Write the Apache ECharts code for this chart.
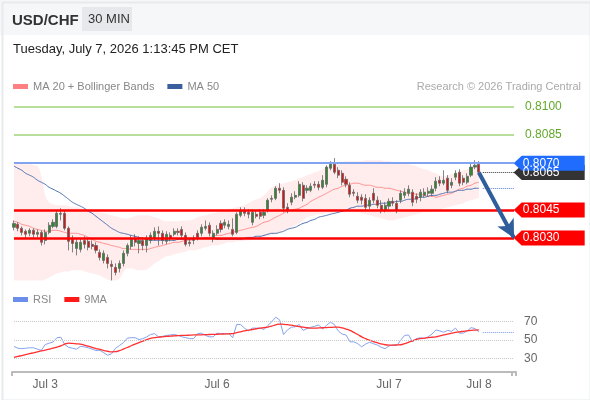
<!DOCTYPE html>
<html lang="en">
<head>
    <meta charset="UTF-8">
    <title>USD/CHF 30 MIN</title>
    <script src="https://cdn.jsdelivr.net/npm/echarts@6/dist/echarts.min.js"></script>
    <style>
        html, body { margin: 0; padding: 0; background: #fff; }
    </style>
</head>
<body>
<div id="main" style="width: 590px;height:400px;"></div>
<script>

    // candles: [open, close, low, high]
    var candles = [
        [0.80357,0.80378,0.80341,0.80394],[0.80373,0.80352,0.80336,0.80384],[0.80352,0.80330,0.80314,0.80362],[0.80336,0.80320,0.80298,0.80346],
        [0.80325,0.80341,0.80309,0.80352],[0.80341,0.80320,0.80303,0.80352],[0.80320,0.80330,0.80303,0.80346],[0.80330,0.80277,0.80260,0.80341],
        [0.80287,0.80330,0.80266,0.80346],[0.80330,0.80368,0.80320,0.80384],[0.80362,0.80384,0.80352,0.80400],[0.80362,0.80432,0.80352,0.80448],
        [0.80427,0.80432,0.80394,0.80459],[0.80432,0.80352,0.80341,0.80448],[0.80352,0.80282,0.80234,0.80362],[0.80298,0.80271,0.80223,0.80314],
        [0.80244,0.80277,0.80207,0.80298],[0.80239,0.80277,0.80223,0.80298],[0.80287,0.80266,0.80244,0.80309],[0.80282,0.80250,0.80234,0.80298],
        [0.80266,0.80255,0.80239,0.80287],[0.80260,0.80234,0.80218,0.80277],[0.80223,0.80196,0.80180,0.80239],[0.80180,0.80218,0.80164,0.80234],
        [0.80196,0.80164,0.80137,0.80212],[0.80159,0.80148,0.80073,0.80180],[0.80143,0.80116,0.80100,0.80164],[0.80137,0.80164,0.80116,0.80180],
        [0.80164,0.80218,0.80148,0.80234],[0.80218,0.80260,0.80202,0.80271],[0.80255,0.80298,0.80239,0.80314],[0.80298,0.80277,0.80255,0.80320],
        [0.80271,0.80287,0.80218,0.80309],[0.80287,0.80260,0.80234,0.80303],[0.80260,0.80298,0.80223,0.80314],[0.80287,0.80314,0.80271,0.80330],
        [0.80298,0.80336,0.80287,0.80357],[0.80336,0.80325,0.80260,0.80362],[0.80325,0.80287,0.80266,0.80341],[0.80282,0.80320,0.80266,0.80336],
        [0.80314,0.80298,0.80282,0.80330],[0.80320,0.80336,0.80309,0.80352],[0.80336,0.80330,0.80314,0.80352],[0.80346,0.80314,0.80298,0.80362],
        [0.80314,0.80266,0.80255,0.80330],[0.80277,0.80271,0.80255,0.80298],[0.80287,0.80298,0.80266,0.80314],[0.80325,0.80303,0.80287,0.80341],
        [0.80325,0.80357,0.80309,0.80373],[0.80352,0.80362,0.80341,0.80394],[0.80368,0.80325,0.80309,0.80384],[0.80298,0.80325,0.80277,0.80341],
        [0.80325,0.80346,0.80314,0.80368],[0.80378,0.80346,0.80330,0.80394],[0.80368,0.80384,0.80352,0.80400],[0.80362,0.80373,0.80346,0.80394],
        [0.80346,0.80320,0.80309,0.80405],[0.80330,0.80427,0.80320,0.80437],[0.80421,0.80448,0.80411,0.80464],[0.80448,0.80432,0.80416,0.80464],
        [0.80437,0.80427,0.80405,0.80454],[0.80384,0.80437,0.80368,0.80454],[0.80427,0.80416,0.80405,0.80448],[0.80437,0.80416,0.80400,0.80454],
        [0.80421,0.80437,0.80405,0.80454],[0.80448,0.80502,0.80437,0.80512],[0.80507,0.80512,0.80491,0.80528],[0.80512,0.80566,0.80502,0.80577],
        [0.80566,0.80555,0.80539,0.80593],[0.80555,0.80459,0.80437,0.80571],[0.80464,0.80448,0.80432,0.80486],[0.80491,0.80518,0.80475,0.80539],
        [0.80518,0.80528,0.80507,0.80550],[0.80528,0.80587,0.80518,0.80604],[0.80582,0.80512,0.80496,0.80598],[0.80555,0.80566,0.80539,0.80582],
        [0.80555,0.80577,0.80545,0.80593],[0.80587,0.80582,0.80566,0.80604],[0.80587,0.80571,0.80555,0.80604],[0.80571,0.80609,0.80561,0.80636],
        [0.80587,0.80679,0.80571,0.80689],[0.80673,0.80700,0.80662,0.80711],[0.80695,0.80652,0.80641,0.80727],[0.80662,0.80636,0.80620,0.80679],
        [0.80646,0.80598,0.80582,0.80662],[0.80614,0.80587,0.80571,0.80630],[0.80582,0.80534,0.80518,0.80598],[0.80545,0.80539,0.80523,0.80561],
        [0.80523,0.80502,0.80486,0.80545],[0.80518,0.80502,0.80480,0.80534],[0.80512,0.80464,0.80448,0.80534],[0.80470,0.80502,0.80454,0.80518],
        [0.80539,0.80502,0.80486,0.80566],[0.80502,0.80475,0.80459,0.80523],[0.80475,0.80448,0.80432,0.80502],[0.80448,0.80475,0.80437,0.80491],
        [0.80470,0.80496,0.80454,0.80512],[0.80496,0.80486,0.80470,0.80518],[0.80486,0.80448,0.80432,0.80502],[0.80502,0.80539,0.80486,0.80555],
        [0.80528,0.80545,0.80512,0.80566],[0.80539,0.80561,0.80523,0.80582],[0.80545,0.80491,0.80470,0.80561],[0.80523,0.80507,0.80486,0.80539],
        [0.80518,0.80545,0.80496,0.80561],[0.80528,0.80545,0.80518,0.80566],[0.80539,0.80550,0.80523,0.80571],[0.80539,0.80561,0.80523,0.80582],
        [0.80566,0.80604,0.80550,0.80625],[0.80609,0.80593,0.80577,0.80630],[0.80593,0.80609,0.80582,0.80662],[0.80620,0.80555,0.80539,0.80636],
        [0.80582,0.80598,0.80566,0.80620],[0.80625,0.80646,0.80609,0.80662],[0.80652,0.80593,0.80577,0.80668],[0.80620,0.80598,0.80582,0.80636],
        [0.80598,0.80630,0.80587,0.80646],[0.80636,0.80679,0.80625,0.80700],[0.80679,0.80689,0.80668,0.80716],[0.80695,0.80652,0.80641,0.80711]
    ];

    var ma20 = [
        0.80389,0.80384,0.80373,0.80368,0.80362,0.80352,0.80346,0.80341,0.80336,0.80336,
        0.80341,0.80341,0.80336,0.80330,0.80325,0.80325,0.80325,0.80320,0.80314,0.80303,
        0.80293,0.80282,0.80277,0.80271,0.80266,0.80260,0.80255,0.80250,0.80244,0.80244,
        0.80239,0.80239,0.80239,0.80239,0.80239,0.80244,0.80250,0.80255,0.80260,0.80266,
        0.80271,0.80277,0.80277,0.80282,0.80287,0.80287,0.80293,0.80298,0.80298,0.80303,
        0.80303,0.80309,0.80314,0.80314,0.80320,0.80325,0.80330,0.80336,0.80341,0.80346,
        0.80352,0.80357,0.80362,0.80373,0.80384,0.80389,0.80400,0.80411,0.80421,0.80432,
        0.80443,0.80448,0.80454,0.80459,0.80470,0.80480,0.80496,0.80507,0.80518,0.80528,
        0.80539,0.80550,0.80561,0.80566,0.80577,0.80582,0.80587,0.80593,0.80593,0.80587,
        0.80582,0.80582,0.80577,0.80571,0.80571,0.80566,0.80566,0.80561,0.80555,0.80550,
        0.80545,0.80539,0.80539,0.80534,0.80534,0.80528,0.80523,0.80523,0.80518,0.80523,
        0.80528,0.80534,0.80539,0.80550,0.80561,0.80566,0.80577,0.80582,0.80593,0.80598
    ];

    var ma50 = [
        0.80684,0.80673,0.80662,0.80646,0.80636,0.80625,0.80609,0.80598,0.80587,0.80571,
        0.80561,0.80550,0.80539,0.80523,0.80507,0.80491,0.80480,0.80470,0.80459,0.80443,
        0.80432,0.80416,0.80400,0.80384,0.80368,0.80352,0.80341,0.80330,0.80325,0.80320,
        0.80314,0.80309,0.80303,0.80298,0.80293,0.80287,0.80287,0.80287,0.80287,0.80287,
        0.80287,0.80287,0.80293,0.80293,0.80293,0.80293,0.80298,0.80298,0.80298,0.80298,
        0.80298,0.80298,0.80293,0.80293,0.80293,0.80293,0.80293,0.80293,0.80293,0.80298,
        0.80303,0.80303,0.80309,0.80309,0.80314,0.80320,0.80325,0.80325,0.80330,0.80336,
        0.80346,0.80352,0.80357,0.80368,0.80378,0.80384,0.80394,0.80400,0.80411,0.80416,
        0.80421,0.80427,0.80432,0.80437,0.80443,0.80448,0.80459,0.80464,0.80470,0.80470,
        0.80475,0.80475,0.80480,0.80480,0.80486,0.80486,0.80491,0.80491,0.80496,0.80496,
        0.80502,0.80507,0.80507,0.80512,0.80518,0.80518,0.80523,0.80528,0.80528,0.80534,
        0.80539,0.80545,0.80545,0.80550,0.80555,0.80555,0.80561,0.80561,0.80566,0.80566
    ];

    var bbUpper = [
        0.80700,0.80700,0.80700,0.80695,0.80695,0.80689,0.80684,0.80630,0.80528,0.80491,
        0.80480,0.80475,0.80475,0.80475,0.80470,0.80464,0.80464,0.80459,0.80454,0.80448,
        0.80443,0.80443,0.80437,0.80432,0.80427,0.80421,0.80416,0.80411,0.80405,0.80405,
        0.80411,0.80416,0.80421,0.80421,0.80421,0.80416,0.80411,0.80405,0.80394,0.80389,
        0.80389,0.80389,0.80389,0.80394,0.80394,0.80394,0.80400,0.80411,0.80416,0.80421,
        0.80427,0.80432,0.80437,0.80443,0.80448,0.80454,0.80459,0.80464,0.80470,0.80475,
        0.80486,0.80496,0.80507,0.80512,0.80528,0.80550,0.80571,0.80582,0.80587,0.80593,
        0.80598,0.80604,0.80609,0.80620,0.80625,0.80636,0.80641,0.80652,0.80657,0.80668,
        0.80679,0.80689,0.80705,0.80705,0.80705,0.80711,0.80711,0.80711,0.80711,0.80711,
        0.80716,0.80716,0.80716,0.80716,0.80716,0.80711,0.80711,0.80705,0.80705,0.80700,
        0.80700,0.80695,0.80689,0.80684,0.80673,0.80668,0.80662,0.80652,0.80646,0.80636,
        0.80630,0.80636,0.80641,0.80646,0.80652,0.80662,0.80668,0.80679,0.80684,0.80689
    ];

    var bbLower = [
        0.80073,0.80073,0.80073,0.80073,0.80073,0.80073,0.80073,0.80073,0.80078,0.80089,
        0.80100,0.80111,0.80116,0.80121,0.80121,0.80127,0.80127,0.80127,0.80121,0.80116,
        0.80111,0.80105,0.80100,0.80089,0.80078,0.80073,0.80073,0.80084,0.80116,0.80137,
        0.80137,0.80132,0.80127,0.80127,0.80132,0.80148,0.80164,0.80175,0.80191,0.80202,
        0.80207,0.80212,0.80218,0.80223,0.80228,0.80234,0.80234,0.80239,0.80244,0.80250,
        0.80255,0.80260,0.80260,0.80266,0.80271,0.80277,0.80277,0.80282,0.80282,0.80287,
        0.80287,0.80293,0.80298,0.80298,0.80303,0.80309,0.80314,0.80320,0.80330,0.80341,
        0.80346,0.80357,0.80368,0.80378,0.80394,0.80411,0.80416,0.80421,0.80427,0.80427,
        0.80432,0.80432,0.80437,0.80437,0.80437,0.80437,0.80437,0.80437,0.80437,0.80432,
        0.80427,0.80421,0.80416,0.80411,0.80405,0.80400,0.80394,0.80394,0.80400,0.80405,
        0.80411,0.80416,0.80421,0.80427,0.80432,0.80437,0.80437,0.80443,0.80448,0.80454,
        0.80459,0.80464,0.80470,0.80475,0.80480,0.80486,0.80496,0.80502,0.80507,0.80512
    ];

    var rsi = [
        43,41,40.5,41,41.5,41.5,40,38.7,45,46.5,
        47.8,52.5,53,45,42,41,40,43,42.5,41.5,
        40,38.5,38.7,36,33.3,35,41,44,47,52,
        52.5,52.5,50.5,51.5,53.5,56,57,53.5,54,55,
        55.5,56,55,53.5,52.5,51.5,51.5,57,57.5,55,
        53.5,53.5,57.5,57,56.5,57,52.5,67,67,63,
        60,63,63,63,61.5,66,70,75,72,56,
        61,64,64.5,67,60.5,62.5,64,65,66.5,62,
        66,69.5,67,60,56.5,55.5,48,48,46,42.5,
        45.5,47.5,46,44.5,42,40.5,43.5,44.5,44,50,
        55,55.5,48,51.5,52.5,51.5,53.5,56.5,61,60,
        58.5,60.5,59.5,63,57.5,57.5,60,63.5,62.5,58.8
    ];

    var rsiMa = [
        31,32,33,34,35,36,37,38,39,40,
        41,42.3,43.5,45.5,46.5,46.2,45.8,45.5,44.5,43.3,
        42,40.7,39.7,38.5,37.7,37.1,37.2,38.3,40,41.8,
        43.7,45.5,47.2,48.8,50.5,51.8,52.7,53.1,53.5,53.9,
        54.2,54.5,54.8,55,55.1,55.3,55.5,55.6,55.7,55.9,
        56,56.2,56.3,56.5,56.7,56.8,57,58,59,60,
        60.8,61.5,62.3,63,63.5,64.2,65.3,66.5,67.4,67.2,
        66.8,66.3,65.4,64.6,64,63.4,63,63,63.2,63.4,
        63.6,63.8,64,64,63.3,62,60.5,58.3,56,53.5,
        51.5,49.8,48.3,47,45.8,44.8,44.5,44.5,44.6,44.8,
        46,47.5,49,50.8,51.5,52,52.6,53,53.4,54.5,
        55.5,56.5,57.4,58.3,59,59.5,60,60.5,60.8,61
    ];

    // niveaux
    var resistances = [0.8100, 0.8085];
    var pivot = 0.8070;
    var supports = [0.8045, 0.8030];
    var lastPrice = 0.8065;
    var rsiLevels = [70, 50, 30];

    // x axis labels
    var tickIdx = [8, 52, 96, 119];
    var tickText = ['Jul 3', 'Jul 6', 'Jul 7', 'Jul 8'];

    var N_RSI = 129;   // categories under the rsi axis (candles + projection space)
    var N_MAIN = 147;  // main panel also holds the price tags
    var END = N_RSI - 1;
    var TAG = 137;
    var last = candles.length - 1;

    var mainCats = [];
    for (var i = 0; i < N_MAIN; i++) mainCats.push(String(i));
    var rsiCats = mainCats.slice(0, N_RSI);

    var bbRange = bbUpper.map(function (u, i) {
        return +(u - bbLower[i]).toFixed(5);
    });

    function fmt(v) { return v.toFixed(4); }

    function hLine(v, color, width, labelColor) {
        return [
            {coord: [0, v], lineStyle: {color: color, width: width, type: 'solid', opacity: 1}},
            {coord: [END, v], label: labelColor ? {show: true, position: 'end', distance: 11, formatter: fmt(v), color: labelColor, fontSize: 12} : {show: false}}
        ];
    }

    var levelLines = [];
    resistances.forEach(function (v) { levelLines.push(hLine(v, '#9fd37a', 1.6, '#62a82a')); });
    levelLines.push(hLine(pivot, '#80a3f2', 2));
    supports.forEach(function (v) { levelLines.push(hLine(v, '#ff0000', 2.5)); });
    // pointillés prix courant et MA50
    levelLines.push([
        {coord: [last + 1, lastPrice], lineStyle: {color: '#333', width: 1, type: 'dotted'}},
        {coord: [END, lastPrice]}
    ]);
    levelLines.push([
        {coord: [last + 1, ma50[last]], lineStyle: {color: '#5b7fd0', width: 1, type: 'dotted'}},
        {coord: [END, ma50[last]]}
    ]);
    // flèche de projection
    levelLines.push([
        {coord: [last, lastPrice], symbol: 'none', lineStyle: {color: '#2f5e9c', width: 4, type: 'solid'}},
        {coord: [END, supports[1]], symbol: 'arrow', symbolSize: [14, 18]}
    ]);

    var tagPath = 'path://M0,7.5L8,0L71,0L71,15L8,15Z';
    var tags = [
        {name: fmt(lastPrice), coord: [TAG, lastPrice], itemStyle: {color: '#333333'}},
        {name: fmt(pivot), coord: [TAG, pivot], itemStyle: {color: '#1f6cff'}},
        {name: fmt(supports[0]), coord: [TAG, supports[0]], itemStyle: {color: '#ff0000'}},
        {name: fmt(supports[1]), coord: [TAG, supports[1]], itemStyle: {color: '#ff0000'}}
    ];

    var rsiLines = rsiLevels.map(function (v) {
        return [
            {coord: [0, v], lineStyle: {color: '#c8c8c8', width: 1, type: 'dotted'}},
            {coord: [END, v], label: {show: true, position: 'end', distance: 10, formatter: String(v), color: '#666', fontSize: 12}}
        ];
    });
    rsiLines.push([
        {coord: [last + 1, rsi[last]], lineStyle: {color: '#7b9be8', width: 1, type: 'dotted'}},
        {coord: [END, rsi[last]]}
    ]);

    var myChart = echarts.init(document.getElementById('main'));

    option = {
        animation: false,
        textStyle: {fontFamily: 'Liberation Sans, Arial, sans-serif'},
        graphic: [
            {type: 'rect', left: 0, top: 0, shape: {width: 590, height: 35}, style: {fill: '#f6f7f9'}, z: -10},
            {type: 'rect', left: 0, top: 0, shape: {x: 0.5, y: 0.5, width: 588, height: 398}, style: {fill: 'none', stroke: '#e8eaed', lineWidth: 2}, z: -9},
            {type: 'text', left: 12, top: 13, style: {text: 'USD/CHF', font: 'bold 15px Liberation Sans, Arial, sans-serif', fill: '#333'}},
            {type: 'rect', left: 82, top: 7, shape: {width: 50, height: 24}, style: {fill: '#e6e8eb'}},
            {type: 'text', left: 88, top: 13, style: {text: '30 MIN', font: '13px Liberation Sans, Arial, sans-serif', fill: '#333'}},
            {type: 'text', left: 13, top: 43, style: {text: 'Tuesday, July 7, 2026 1:13:45 PM CET', font: '13px Liberation Sans, Arial, sans-serif', fill: '#222'}},
            {type: 'text', right: 9, top: 81, style: {text: 'Research \u00a9 2026 Trading Central', font: '11px Liberation Sans, Arial, sans-serif', fill: '#aaa'}}
        ],
        legend: [{
            data: ['MA 20 + Bollinger Bands', 'MA 50'],
            left: 8,
            top: 76,
            icon: 'rect',
            itemWidth: 15,
            itemHeight: 5,
            itemGap: 13,
            selectedMode: false,
            textStyle: {color: '#888', fontSize: 11}
        }, {
            data: ['RSI', '9MA'],
            left: 8,
            top: 289,
            icon: 'rect',
            itemWidth: 15,
            itemHeight: 5,
            itemGap: 13,
            selectedMode: false,
            textStyle: {color: '#888', fontSize: 11}
        }],
        grid: [
            {left: 12, top: 94, width: 574.3, height: 187},
            {left: 12, top: 308, width: 504, height: 64}
        ],
        xAxis: [{
            type: 'category',
            gridIndex: 0,
            data: mainCats,
            show: false
        }, {
            type: 'category',
            gridIndex: 1,
            data: rsiCats,
            axisLine: {lineStyle: {color: '#bbb', width: 2}},
            axisTick: {
                show: true,
                length: 4,
                interval: function (index) { return index === 0 || index === END; },
                lineStyle: {color: '#bbb', width: 2}
            },
            axisLabel: {
                interval: function (index) { return tickIdx.indexOf(index) >= 0; },
                formatter: function (value, index) {
                    var k = tickIdx.indexOf(index);
                    return k >= 0 ? tickText[k] : '';
                },
                color: '#666',
                fontSize: 12,
                margin: 7
            }
        }],
        yAxis: [{
            type: 'value',
            gridIndex: 0,
            min: 0.8007,
            max: 0.8107,
            show: false,
            splitLine: {show: false}
        }, {
            type: 'value',
            gridIndex: 1,
            min: 15,
            max: 85,
            show: false,
            splitLine: {show: false}
        }],
        series: [
            {
                name: 'bbLower',
                type: 'line',
                data: bbLower,
                stack: 'bb',
                smooth: true,
                symbol: 'none',
                silent: true,
                lineStyle: {opacity: 0},
                z: 1
            },
            {
                name: 'bbRange',
                type: 'line',
                data: bbRange,
                stack: 'bb',
                smooth: true,
                symbol: 'none',
                silent: true,
                lineStyle: {opacity: 0},
                areaStyle: {color: 'rgba(255,80,80,0.15)'},
                z: 1
            },
            {
                name: 'MA 20 + Bollinger Bands',
                type: 'line',
                data: ma20,
                smooth: true,
                symbol: 'none',
                itemStyle: {color: '#ff8080'},
                lineStyle: {color: '#ff8c8c', width: 1},
                z: 2
            },
            {
                name: 'MA 50',
                type: 'line',
                data: ma50,
                smooth: true,
                symbol: 'none',
                itemStyle: {color: '#3a5e9e'},
                lineStyle: {color: '#4a6fb0', width: 1},
                z: 2
            },
            {
                name: 'USD/CHF',
                type: 'candlestick',
                data: candles,
                barWidth: 2.6,
                itemStyle: {
                    color: '#2e8a2e',
                    color0: '#e01010',
                    borderColor: '#666',
                    borderColor0: '#666',
                    borderWidth: 0.8
                },
                z: 3
            },
            {
                name: 'levels',
                type: 'line',
                data: [],
                z: 5,
                markLine: {
                    silent: true,
                    symbol: ['none', 'none'],
                    label: {show: false},
                    lineStyle: {opacity: 1},
                    data: levelLines
                },
                markPoint: {
                    silent: true,
                    symbol: tagPath,
                    symbolSize: [71, 15],
                    symbolKeepAspect: false,
                    label: {
                        show: true,
                        position: 'inside',
                        formatter: '{b}',
                        color: '#fff',
                        fontSize: 12,
                        offset: [-8, 0]
                    },
                    data: tags
                }
            },
            {
                name: 'RSI',
                type: 'line',
                xAxisIndex: 1,
                yAxisIndex: 1,
                data: rsi,
                symbol: 'none',
                itemStyle: {color: '#6b8eea'},
                lineStyle: {color: '#86a2ec', width: 1},
                z: 2
            },
            {
                name: '9MA',
                type: 'line',
                xAxisIndex: 1,
                yAxisIndex: 1,
                data: rsiMa,
                smooth: true,
                symbol: 'none',
                itemStyle: {color: '#ff1a1a'},
                lineStyle: {color: '#ff3030', width: 1.3},
                z: 3,
                markLine: {
                    silent: true,
                    symbol: ['none', 'none'],
                    label: {show: false},
                    data: rsiLines
                }
            }
        ]
    };

    myChart.setOption(option);
</script>
</body>
</html>
